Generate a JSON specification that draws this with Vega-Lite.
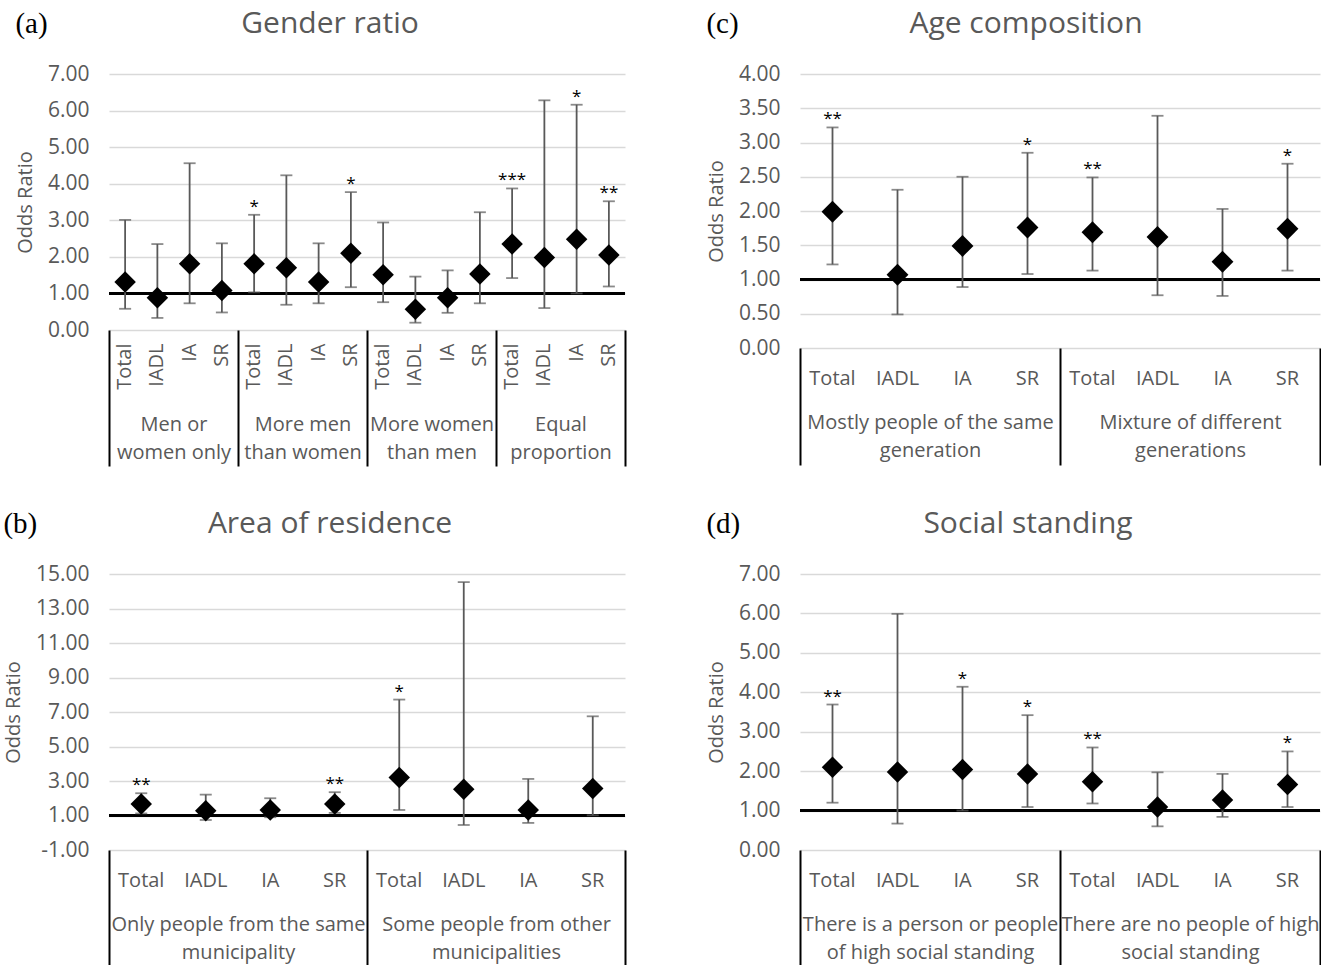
{
  "$schema": "https://vega.github.io/schema/vega-lite/v6.json",
  "background": "white",
  "padding": {"left": 3, "top": 9, "right": 0, "bottom": 0},
  "config": {
    "view": {"stroke": null},
    "axisY": {"grid": true, "gridColor": "#d9d9d9", "gridWidth": 1.5, "domain": false, "ticks": false, "labelPadding": 20, "labelFont": "Open Sans", "labelFontSize": 21, "labelColor": "#595959", "titleFont": "Open Sans", "titleFontSize": 20, "titleFontWeight": "normal", "titleColor": "#595959", "titlePadding": 12}
  },
  "datasets": {
    "a": [
      {"group": "Men or women only", "row": "Men or women only: Total", "or": 1.31, "lo": 0.58, "hi": 3.01, "sig": ""},
      {"group": "Men or women only", "row": "Men or women only: IADL", "or": 0.88, "lo": 0.33, "hi": 2.35, "sig": ""},
      {"group": "Men or women only", "row": "Men or women only: IA", "or": 1.81, "lo": 0.73, "hi": 4.56, "sig": ""},
      {"group": "Men or women only", "row": "Men or women only: SR", "or": 1.08, "lo": 0.48, "hi": 2.37, "sig": ""},
      {"group": "More men than women", "row": "More men than women: Total", "or": 1.81, "lo": 1.03, "hi": 3.15, "sig": "*"},
      {"group": "More men than women", "row": "More men than women: IADL", "or": 1.70, "lo": 0.69, "hi": 4.23, "sig": ""},
      {"group": "More men than women", "row": "More men than women: IA", "or": 1.31, "lo": 0.73, "hi": 2.37, "sig": ""},
      {"group": "More men than women", "row": "More men than women: SR", "or": 2.10, "lo": 1.17, "hi": 3.77, "sig": "*"},
      {"group": "More women than men", "row": "More women than men: Total", "or": 1.51, "lo": 0.76, "hi": 2.94, "sig": ""},
      {"group": "More women than men", "row": "More women than men: IADL", "or": 0.57, "lo": 0.20, "hi": 1.46, "sig": ""},
      {"group": "More women than men", "row": "More women than men: IA", "or": 0.88, "lo": 0.47, "hi": 1.63, "sig": ""},
      {"group": "More women than men", "row": "More women than men: SR", "or": 1.53, "lo": 0.73, "hi": 3.22, "sig": ""},
      {"group": "Equal proportion", "row": "Equal proportion: Total", "or": 2.35, "lo": 1.42, "hi": 3.87, "sig": "***"},
      {"group": "Equal proportion", "row": "Equal proportion: IADL", "or": 1.98, "lo": 0.60, "hi": 6.28, "sig": ""},
      {"group": "Equal proportion", "row": "Equal proportion: IA", "or": 2.48, "lo": 1.00, "hi": 6.16, "sig": "*"},
      {"group": "Equal proportion", "row": "Equal proportion: SR", "or": 2.05, "lo": 1.19, "hi": 3.52, "sig": "**"}
    ],
    "b": [
      {"group": "Only people from the same municipality", "row": "Only people from the same municipality: Total", "or": 1.67, "lo": 1.12, "hi": 2.29, "sig": "**"},
      {"group": "Only people from the same municipality", "row": "Only people from the same municipality: IADL", "or": 1.28, "lo": 0.74, "hi": 2.21, "sig": ""},
      {"group": "Only people from the same municipality", "row": "Only people from the same municipality: IA", "or": 1.32, "lo": 0.90, "hi": 2.00, "sig": ""},
      {"group": "Only people from the same municipality", "row": "Only people from the same municipality: SR", "or": 1.67, "lo": 1.15, "hi": 2.35, "sig": "**"},
      {"group": "Some people from other municipalities", "row": "Some people from other municipalities: Total", "or": 3.20, "lo": 1.32, "hi": 7.72, "sig": "*"},
      {"group": "Some people from other municipalities", "row": "Some people from other municipalities: IADL", "or": 2.52, "lo": 0.45, "hi": 14.53, "sig": ""},
      {"group": "Some people from other municipalities", "row": "Some people from other municipalities: IA", "or": 1.32, "lo": 0.57, "hi": 3.12, "sig": ""},
      {"group": "Some people from other municipalities", "row": "Some people from other municipalities: SR", "or": 2.56, "lo": 1.01, "hi": 6.75, "sig": ""}
    ],
    "c": [
      {"group": "Mostly people of the same generation", "row": "Mostly people of the same generation: Total", "or": 1.99, "lo": 1.22, "hi": 3.22, "sig": "**"},
      {"group": "Mostly people of the same generation", "row": "Mostly people of the same generation: IADL", "or": 1.07, "lo": 0.49, "hi": 2.31, "sig": ""},
      {"group": "Mostly people of the same generation", "row": "Mostly people of the same generation: IA", "or": 1.49, "lo": 0.89, "hi": 2.50, "sig": ""},
      {"group": "Mostly people of the same generation", "row": "Mostly people of the same generation: SR", "or": 1.76, "lo": 1.08, "hi": 2.85, "sig": "*"},
      {"group": "Mixture of different generations", "row": "Mixture of different generations: Total", "or": 1.69, "lo": 1.13, "hi": 2.49, "sig": "**"},
      {"group": "Mixture of different generations", "row": "Mixture of different generations: IADL", "or": 1.62, "lo": 0.77, "hi": 3.39, "sig": ""},
      {"group": "Mixture of different generations", "row": "Mixture of different generations: IA", "or": 1.26, "lo": 0.76, "hi": 2.03, "sig": ""},
      {"group": "Mixture of different generations", "row": "Mixture of different generations: SR", "or": 1.74, "lo": 1.13, "hi": 2.69, "sig": "*"}
    ],
    "d": [
      {"group": "There is a person or people of high social standing", "row": "There is a person or people of high social standing: Total", "or": 2.10, "lo": 1.20, "hi": 3.69, "sig": "**"},
      {"group": "There is a person or people of high social standing", "row": "There is a person or people of high social standing: IADL", "or": 1.98, "lo": 0.67, "hi": 5.99, "sig": ""},
      {"group": "There is a person or people of high social standing", "row": "There is a person or people of high social standing: IA", "or": 2.04, "lo": 1.00, "hi": 4.14, "sig": "*"},
      {"group": "There is a person or people of high social standing", "row": "There is a person or people of high social standing: SR", "or": 1.93, "lo": 1.09, "hi": 3.42, "sig": "*"},
      {"group": "There are no people of high social standing", "row": "There are no people of high social standing: Total", "or": 1.73, "lo": 1.18, "hi": 2.60, "sig": "**"},
      {"group": "There are no people of high social standing", "row": "There are no people of high social standing: IADL", "or": 1.09, "lo": 0.60, "hi": 1.97, "sig": ""},
      {"group": "There are no people of high social standing", "row": "There are no people of high social standing: IA", "or": 1.27, "lo": 0.84, "hi": 1.93, "sig": ""},
      {"group": "There are no people of high social standing", "row": "There are no people of high social standing: SR", "or": 1.66, "lo": 1.09, "hi": 2.50, "sig": "*"}
    ]
  },
  "columns": 2,
  "bounds": "full",
  "spacing": {"row": 42, "column": 80},
  "concat": [
    {
      "title": {"text": "(a)", "anchor": "start", "frame": "bounds", "offset": 0, "dy": 30, "baseline": "top", "font": "Liberation Serif", "fontSize": 29, "fontWeight": "normal", "color": "#000000"},
      "vconcat": [
        {
          "width": 516, "height": 256,
          "data": {"name": "a"},
          "title": {"text": "Gender ratio", "anchor": "middle", "frame": "group", "dx": -37, "offset": 24, "baseline": "top", "font": "Open Sans", "fontSize": 30, "fontWeight": "normal", "color": "#595959"},
          "layer": [
            {"mark": {"type": "rule", "color": "#000000", "strokeWidth": 2}, "encoding": {"y": {"datum": 1, "type": "quantitative", "scale": {"domain": [0, 7], "nice": false, "zero": false}, "axis": {"title": "Odds Ratio", "values": [0, 1, 2, 3, 4, 5, 6, 7], "format": ".2f"}}}},
            {
              "encoding": {"x": {"field": "row", "type": "nominal", "sort": null, "scale": {"type": "band", "paddingInner": 0, "paddingOuter": 0}, "axis": {"orient": "bottom", "title": null, "ticks": false, "domain": false, "grid": false, "labelAngle": 270, "labelPadding": 13, "labelExpr": "split(datum.value, ': ')[1]", "labelFont": "Open Sans", "labelFontSize": 20, "labelColor": "#595959", "labelOverlap": false, "labelLimit": 0}}},
              "layer": [
                {"mark": {"type": "rule", "color": "#595959", "strokeWidth": 1.8}, "encoding": {"y": {"field": "lo", "type": "quantitative", "scale": {"domain": [0, 7], "nice": false, "zero": false}, "axis": {"title": "Odds Ratio", "values": [0, 1, 2, 3, 4, 5, 6, 7], "format": ".2f"}}, "y2": {"field": "hi"}}},
                {"mark": {"type": "tick", "orient": "horizontal", "color": "#595959", "thickness": 1.8, "size": 12}, "encoding": {"y": {"field": "hi", "type": "quantitative", "scale": {"domain": [0, 7], "nice": false, "zero": false}, "axis": {"title": "Odds Ratio", "values": [0, 1, 2, 3, 4, 5, 6, 7], "format": ".2f"}}}},
                {"mark": {"type": "tick", "orient": "horizontal", "color": "#595959", "thickness": 1.8, "size": 12}, "encoding": {"y": {"field": "lo", "type": "quantitative", "scale": {"domain": [0, 7], "nice": false, "zero": false}, "axis": {"title": "Odds Ratio", "values": [0, 1, 2, 3, 4, 5, 6, 7], "format": ".2f"}}}},
                {"mark": {"type": "point", "shape": "diamond", "filled": true, "size": 460, "color": "#000000", "opacity": 1}, "encoding": {"y": {"field": "or", "type": "quantitative", "scale": {"domain": [0, 7], "nice": false, "zero": false}, "axis": {"title": "Odds Ratio", "values": [0, 1, 2, 3, 4, 5, 6, 7], "format": ".2f"}}}},
                {"mark": {"type": "text", "font": "Open Sans", "fontSize": 17, "baseline": "alphabetic", "align": "center", "dy": -3, "color": "#000000"}, "encoding": {"y": {"field": "hi", "type": "quantitative", "scale": {"domain": [0, 7], "nice": false, "zero": false}, "axis": {"title": "Odds Ratio", "values": [0, 1, 2, 3, 4, 5, 6, 7], "format": ".2f"}}, "text": {"field": "sig"}}}
              ]
            },
            {"mark": {"type": "point", "opacity": 0}, "encoding": {"x": {"field": "group", "type": "nominal", "sort": null, "scale": {"type": "band", "paddingInner": 0, "paddingOuter": 0}, "axis": {"orient": "bottom", "title": null, "domain": false, "grid": false, "ticks": true, "tickBand": "extent", "tickSize": 136, "tickColor": "#000000", "tickWidth": 2, "labelAngle": 0, "labelAlign": "center", "labelBaseline": "top", "labelPadding": -52, "labelLineHeight": 28, "labelFont": "Open Sans", "labelFontSize": 20, "labelColor": "#595959", "labelLimit": 0, "labelOverlap": false, "labelExpr": "datum.value == 'Men or women only' ? ['Men or', 'women only'] : datum.value == 'More men than women' ? ['More men', 'than women'] : datum.value == 'More women than men' ? ['More women', 'than men'] : datum.value == 'Equal proportion' ? ['Equal', 'proportion'] : ''"}}}}
          ],
          "resolve": {"scale": {"x": "independent"}, "axis": {"x": "independent"}}
        }
      ]
    },
    {
      "title": {"text": "(c)", "anchor": "start", "frame": "bounds", "offset": 0, "dy": 30, "baseline": "top", "font": "Liberation Serif", "fontSize": 29, "fontWeight": "normal", "color": "#000000"},
      "vconcat": [
        {
          "width": 520, "height": 274,
          "data": {"name": "c"},
          "title": {"text": "Age composition", "anchor": "middle", "frame": "group", "dx": -34, "offset": 24, "baseline": "top", "font": "Open Sans", "fontSize": 30, "fontWeight": "normal", "color": "#595959"},
          "layer": [
            {"mark": {"type": "rule", "color": "#000000", "strokeWidth": 2}, "encoding": {"y": {"datum": 1, "type": "quantitative", "scale": {"domain": [0, 4], "nice": false, "zero": false}, "axis": {"title": "Odds Ratio", "values": [0, 0.5, 1, 1.5, 2, 2.5, 3, 3.5, 4], "format": ".2f"}}}},
            {
              "encoding": {"x": {"field": "row", "type": "nominal", "sort": null, "scale": {"type": "band", "paddingInner": 0, "paddingOuter": 0}, "axis": {"orient": "bottom", "title": null, "ticks": false, "domain": false, "grid": false, "labelAngle": 0, "labelBaseline": "top", "labelPadding": 20, "labelExpr": "split(datum.value, ': ')[1]", "labelFont": "Open Sans", "labelFontSize": 20, "labelColor": "#595959", "labelOverlap": false, "labelLimit": 0}}},
              "layer": [
                {"mark": {"type": "rule", "color": "#595959", "strokeWidth": 1.8}, "encoding": {"y": {"field": "lo", "type": "quantitative", "scale": {"domain": [0, 4], "nice": false, "zero": false}, "axis": {"title": "Odds Ratio", "values": [0, 0.5, 1, 1.5, 2, 2.5, 3, 3.5, 4], "format": ".2f"}}, "y2": {"field": "hi"}}},
                {"mark": {"type": "tick", "orient": "horizontal", "color": "#595959", "thickness": 1.8, "size": 12}, "encoding": {"y": {"field": "hi", "type": "quantitative", "scale": {"domain": [0, 4], "nice": false, "zero": false}, "axis": {"title": "Odds Ratio", "values": [0, 0.5, 1, 1.5, 2, 2.5, 3, 3.5, 4], "format": ".2f"}}}},
                {"mark": {"type": "tick", "orient": "horizontal", "color": "#595959", "thickness": 1.8, "size": 12}, "encoding": {"y": {"field": "lo", "type": "quantitative", "scale": {"domain": [0, 4], "nice": false, "zero": false}, "axis": {"title": "Odds Ratio", "values": [0, 0.5, 1, 1.5, 2, 2.5, 3, 3.5, 4], "format": ".2f"}}}},
                {"mark": {"type": "point", "shape": "diamond", "filled": true, "size": 480, "color": "#000000", "opacity": 1}, "encoding": {"y": {"field": "or", "type": "quantitative", "scale": {"domain": [0, 4], "nice": false, "zero": false}, "axis": {"title": "Odds Ratio", "values": [0, 0.5, 1, 1.5, 2, 2.5, 3, 3.5, 4], "format": ".2f"}}}},
                {"mark": {"type": "text", "font": "Open Sans", "fontSize": 17, "baseline": "alphabetic", "align": "center", "dy": -3, "color": "#000000"}, "encoding": {"y": {"field": "hi", "type": "quantitative", "scale": {"domain": [0, 4], "nice": false, "zero": false}, "axis": {"title": "Odds Ratio", "values": [0, 0.5, 1, 1.5, 2, 2.5, 3, 3.5, 4], "format": ".2f"}}, "text": {"field": "sig"}}}
              ]
            },
            {"mark": {"type": "point", "opacity": 0}, "encoding": {"x": {"field": "group", "type": "nominal", "sort": null, "scale": {"type": "band", "paddingInner": 0, "paddingOuter": 0}, "axis": {"orient": "bottom", "title": null, "domain": false, "grid": false, "ticks": true, "tickBand": "extent", "tickSize": 117, "tickColor": "#000000", "tickWidth": 2, "labelAngle": 0, "labelAlign": "center", "labelBaseline": "top", "labelPadding": -53, "labelLineHeight": 28, "labelFont": "Open Sans", "labelFontSize": 20, "labelColor": "#595959", "labelLimit": 0, "labelOverlap": false, "labelExpr": "datum.value == 'Mostly people of the same generation' ? ['Mostly people of the same', 'generation'] : datum.value == 'Mixture of different generations' ? ['Mixture of different', 'generations'] : ''"}}}}
          ],
          "resolve": {"scale": {"x": "independent"}, "axis": {"x": "independent"}}
        }
      ]
    },
    {
      "title": {"text": "(b)", "anchor": "start", "frame": "bounds", "offset": 0, "dy": 30, "baseline": "top", "font": "Liberation Serif", "fontSize": 29, "fontWeight": "normal", "color": "#000000"},
      "vconcat": [
        {
          "width": 516, "height": 276,
          "data": {"name": "b"},
          "title": {"text": "Area of residence", "anchor": "middle", "frame": "group", "dx": -37, "offset": 24, "baseline": "top", "font": "Open Sans", "fontSize": 30, "fontWeight": "normal", "color": "#595959"},
          "layer": [
            {"mark": {"type": "rule", "color": "#000000", "strokeWidth": 2}, "encoding": {"y": {"datum": 1, "type": "quantitative", "scale": {"domain": [-1, 15], "nice": false, "zero": false}, "axis": {"title": "Odds Ratio", "values": [-1, 1, 3, 5, 7, 9, 11, 13, 15], "labelExpr": "replace(format(datum.value, '.2f'), '\u2212', '-')"}}}},
            {
              "encoding": {"x": {"field": "row", "type": "nominal", "sort": null, "scale": {"type": "band", "paddingInner": 0, "paddingOuter": 0}, "axis": {"orient": "bottom", "title": null, "ticks": false, "domain": false, "grid": false, "labelAngle": 0, "labelBaseline": "top", "labelPadding": 20, "labelExpr": "split(datum.value, ': ')[1]", "labelFont": "Open Sans", "labelFontSize": 20, "labelColor": "#595959", "labelOverlap": false, "labelLimit": 0}}},
              "layer": [
                {"mark": {"type": "rule", "color": "#595959", "strokeWidth": 1.8}, "encoding": {"y": {"field": "lo", "type": "quantitative", "scale": {"domain": [-1, 15], "nice": false, "zero": false}, "axis": {"title": "Odds Ratio", "values": [-1, 1, 3, 5, 7, 9, 11, 13, 15], "labelExpr": "replace(format(datum.value, '.2f'), '\u2212', '-')"}}, "y2": {"field": "hi"}}},
                {"mark": {"type": "tick", "orient": "horizontal", "color": "#595959", "thickness": 1.8, "size": 12}, "encoding": {"y": {"field": "hi", "type": "quantitative", "scale": {"domain": [-1, 15], "nice": false, "zero": false}, "axis": {"title": "Odds Ratio", "values": [-1, 1, 3, 5, 7, 9, 11, 13, 15], "labelExpr": "replace(format(datum.value, '.2f'), '\u2212', '-')"}}}},
                {"mark": {"type": "tick", "orient": "horizontal", "color": "#595959", "thickness": 1.8, "size": 12}, "encoding": {"y": {"field": "lo", "type": "quantitative", "scale": {"domain": [-1, 15], "nice": false, "zero": false}, "axis": {"title": "Odds Ratio", "values": [-1, 1, 3, 5, 7, 9, 11, 13, 15], "labelExpr": "replace(format(datum.value, '.2f'), '\u2212', '-')"}}}},
                {"mark": {"type": "point", "shape": "diamond", "filled": true, "size": 460, "color": "#000000", "opacity": 1}, "encoding": {"y": {"field": "or", "type": "quantitative", "scale": {"domain": [-1, 15], "nice": false, "zero": false}, "axis": {"title": "Odds Ratio", "values": [-1, 1, 3, 5, 7, 9, 11, 13, 15], "labelExpr": "replace(format(datum.value, '.2f'), '\u2212', '-')"}}}},
                {"mark": {"type": "text", "font": "Open Sans", "fontSize": 17, "baseline": "alphabetic", "align": "center", "dy": -3, "color": "#000000"}, "encoding": {"y": {"field": "hi", "type": "quantitative", "scale": {"domain": [-1, 15], "nice": false, "zero": false}, "axis": {"title": "Odds Ratio", "values": [-1, 1, 3, 5, 7, 9, 11, 13, 15], "labelExpr": "replace(format(datum.value, '.2f'), '\u2212', '-')"}}, "text": {"field": "sig"}}}
              ]
            },
            {"mark": {"type": "point", "opacity": 0}, "encoding": {"x": {"field": "group", "type": "nominal", "sort": null, "scale": {"type": "band", "paddingInner": 0, "paddingOuter": 0}, "axis": {"orient": "bottom", "title": null, "domain": false, "grid": false, "ticks": true, "tickBand": "extent", "tickSize": 116, "tickColor": "#000000", "tickWidth": 2, "labelAngle": 0, "labelAlign": "center", "labelBaseline": "top", "labelPadding": -52, "labelLineHeight": 28, "labelFont": "Open Sans", "labelFontSize": 20, "labelColor": "#595959", "labelLimit": 0, "labelOverlap": false, "labelExpr": "datum.value == 'Only people from the same municipality' ? ['Only people from the same', 'municipality'] : datum.value == 'Some people from other municipalities' ? ['Some people from other', 'municipalities'] : ''"}}}}
          ],
          "resolve": {"scale": {"x": "independent"}, "axis": {"x": "independent"}}
        }
      ]
    },
    {
      "title": {"text": "(d)", "anchor": "start", "frame": "bounds", "offset": 0, "dy": 30, "baseline": "top", "font": "Liberation Serif", "fontSize": 29, "fontWeight": "normal", "color": "#000000"},
      "vconcat": [
        {
          "width": 520, "height": 276,
          "data": {"name": "d"},
          "title": {"text": "Social standing", "anchor": "middle", "frame": "group", "dx": -32, "offset": 24, "baseline": "top", "font": "Open Sans", "fontSize": 30, "fontWeight": "normal", "color": "#595959"},
          "layer": [
            {"mark": {"type": "rule", "color": "#000000", "strokeWidth": 2}, "encoding": {"y": {"datum": 1, "type": "quantitative", "scale": {"domain": [0, 7], "nice": false, "zero": false}, "axis": {"title": "Odds Ratio", "values": [0, 1, 2, 3, 4, 5, 6, 7], "format": ".2f"}}}},
            {
              "encoding": {"x": {"field": "row", "type": "nominal", "sort": null, "scale": {"type": "band", "paddingInner": 0, "paddingOuter": 0}, "axis": {"orient": "bottom", "title": null, "ticks": false, "domain": false, "grid": false, "labelAngle": 0, "labelBaseline": "top", "labelPadding": 20, "labelExpr": "split(datum.value, ': ')[1]", "labelFont": "Open Sans", "labelFontSize": 20, "labelColor": "#595959", "labelOverlap": false, "labelLimit": 0}}},
              "layer": [
                {"mark": {"type": "rule", "color": "#595959", "strokeWidth": 1.8}, "encoding": {"y": {"field": "lo", "type": "quantitative", "scale": {"domain": [0, 7], "nice": false, "zero": false}, "axis": {"title": "Odds Ratio", "values": [0, 1, 2, 3, 4, 5, 6, 7], "format": ".2f"}}, "y2": {"field": "hi"}}},
                {"mark": {"type": "tick", "orient": "horizontal", "color": "#595959", "thickness": 1.8, "size": 12}, "encoding": {"y": {"field": "hi", "type": "quantitative", "scale": {"domain": [0, 7], "nice": false, "zero": false}, "axis": {"title": "Odds Ratio", "values": [0, 1, 2, 3, 4, 5, 6, 7], "format": ".2f"}}}},
                {"mark": {"type": "tick", "orient": "horizontal", "color": "#595959", "thickness": 1.8, "size": 12}, "encoding": {"y": {"field": "lo", "type": "quantitative", "scale": {"domain": [0, 7], "nice": false, "zero": false}, "axis": {"title": "Odds Ratio", "values": [0, 1, 2, 3, 4, 5, 6, 7], "format": ".2f"}}}},
                {"mark": {"type": "point", "shape": "diamond", "filled": true, "size": 460, "color": "#000000", "opacity": 1}, "encoding": {"y": {"field": "or", "type": "quantitative", "scale": {"domain": [0, 7], "nice": false, "zero": false}, "axis": {"title": "Odds Ratio", "values": [0, 1, 2, 3, 4, 5, 6, 7], "format": ".2f"}}}},
                {"mark": {"type": "text", "font": "Open Sans", "fontSize": 17, "baseline": "alphabetic", "align": "center", "dy": -3, "color": "#000000"}, "encoding": {"y": {"field": "hi", "type": "quantitative", "scale": {"domain": [0, 7], "nice": false, "zero": false}, "axis": {"title": "Odds Ratio", "values": [0, 1, 2, 3, 4, 5, 6, 7], "format": ".2f"}}, "text": {"field": "sig"}}}
              ]
            },
            {"mark": {"type": "point", "opacity": 0}, "encoding": {"x": {"field": "group", "type": "nominal", "sort": null, "scale": {"type": "band", "paddingInner": 0, "paddingOuter": 0}, "axis": {"orient": "bottom", "title": null, "domain": false, "grid": false, "ticks": true, "tickBand": "extent", "tickSize": 116, "tickColor": "#000000", "tickWidth": 2, "labelAngle": 0, "labelAlign": "center", "labelBaseline": "top", "labelPadding": -52, "labelLineHeight": 28, "labelFont": "Open Sans", "labelFontSize": 20, "labelColor": "#595959", "labelLimit": 0, "labelOverlap": false, "labelExpr": "datum.value == 'There is a person or people of high social standing' ? ['There is a person or people', 'of high social standing'] : datum.value == 'There are no people of high social standing' ? ['There are no people of high', 'social standing'] : ''"}}}}
          ],
          "resolve": {"scale": {"x": "independent"}, "axis": {"x": "independent"}}
        }
      ]
    }
  ]
}
